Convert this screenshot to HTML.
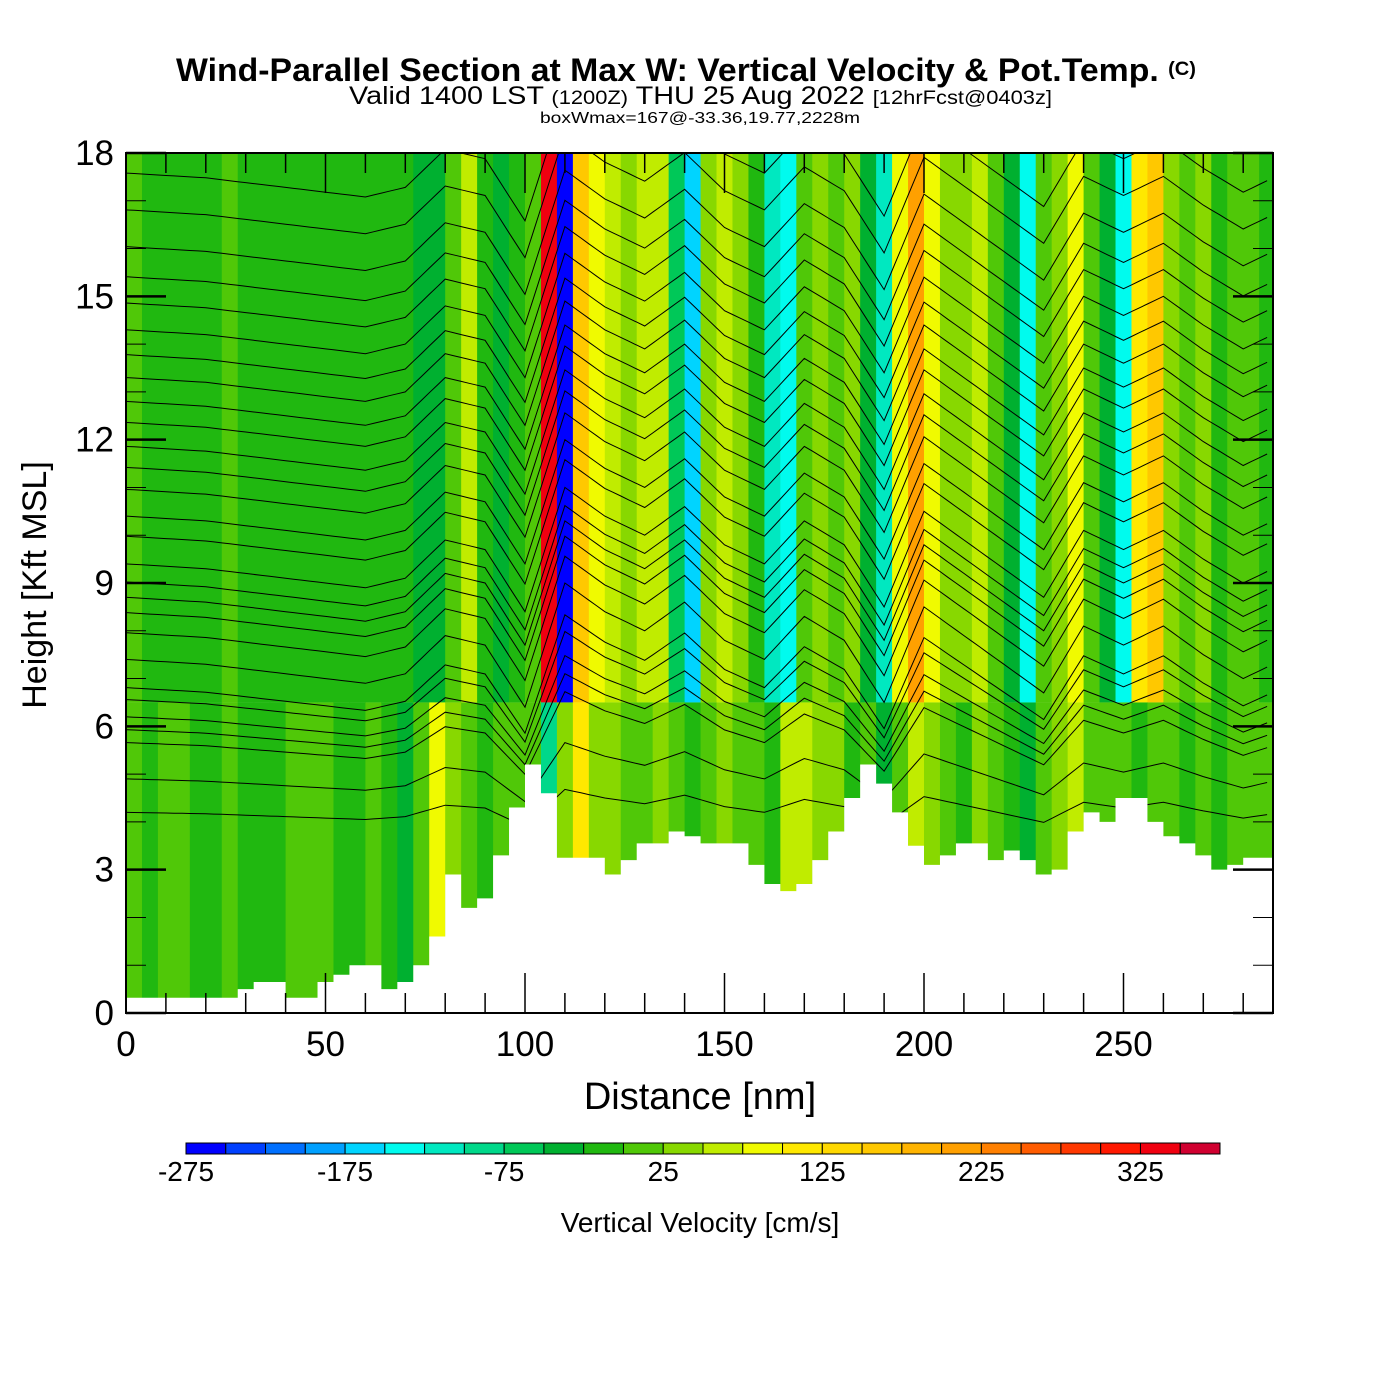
<!DOCTYPE html>
<html><head><meta charset="utf-8"><style>
html,body{margin:0;padding:0;background:#fff;}
svg{display:block;font-family:"Liberation Sans",sans-serif;}
</style></head><body>
<svg id="chart" width="1400" height="1400" viewBox="0 0 1400 1400" xmlns="http://www.w3.org/2000/svg">
<text x="176" y="81" font-size="32" font-weight="bold" textLength="1020" lengthAdjust="spacingAndGlyphs">Wind-Parallel Section at Max W: Vertical Velocity &amp; Pot.Temp. <tspan font-size="19" dy="-6">(C)</tspan></text>
<text x="349" y="104" font-size="25" textLength="703" lengthAdjust="spacingAndGlyphs">Valid 1400 LST <tspan font-size="19">(1200Z)</tspan> THU 25 Aug 2022 <tspan font-size="19">[12hrFcst@0403z]</tspan></text>
<text x="540" y="123" font-size="16" textLength="320" lengthAdjust="spacingAndGlyphs">boxWmax=167@-33.36,19.77,2228m</text>
<g id="cells"></g>
<g id="theta"></g>
<g id="terrain"></g>
<g id="axes"></g>
<g id="cbar"></g>
<text x="700" y="1109" text-anchor="middle" font-size="38">Distance [nm]</text>
<text transform="translate(46,585) rotate(-90)" text-anchor="middle" font-size="34">Height [Kft MSL]</text>
<text x="700" y="1232" text-anchor="middle" font-size="28">Vertical Velocity [cm/s]</text>
</svg>
<script>
// ---- data ----
const colStepNm = 4;
const wUpper = [10,-10,-10,-10,-10,-10,10,-10,-10,-10,-10,-10,-10,-10,-10,-10,-10,-10,-30,
 -40,20,55,-10,-30,-20,10,340,-260,160,90,60,40,70,50,-60,-160,30,55,40,-10,-120,-150,10,30,15,40,-30,-110,80,210,90,40,30,55,15,-30,-150,10,40,80,10,-40,-150,100,160,40,15,30,-5,15,10,-5];
const wLower = [10,-10,10,10,-10,-10,10,-10,-10,-10,10,10,10,-10,-10,10,-10,-30,10,
 90,40,15,-10,10,10,10,-80,30,100,40,30,15,5,30,15,-10,10,30,15,10,-10,55,60,40,30,-10,10,-30,15,60,40,10,-10,30,10,-10,-30,15,40,60,15,5,10,-10,15,10,-10,10,-10,10,15,10];
const terrainKft = [0.32,0.32,0.32,0.32,0.32,0.32,0.32,0.5,0.65,0.65,0.32,0.32,0.65,0.8,1.0,1.0,0.5,0.65,1.0,1.6,2.9,2.2,2.4,3.3,4.3,5.2,4.6,3.25,3.25,3.25,2.9,3.2,3.55,3.55,3.8,3.7,3.55,3.55,3.55,3.1,2.7,2.55,2.7,3.2,3.8,4.5,5.2,4.8,4.2,3.5,3.1,3.3,3.55,3.55,3.2,3.4,3.2,2.9,3.0,3.8,4.2,4.0,4.5,4.5,4.0,3.7,3.55,3.3,3.0,3.1,3.25,3.25];
const thetaBaseKft = [4.2,4.9,5.66,5.93,6.2,6.56,6.81,7.4,7.96,8.38,8.7,9.02,9.4,9.98,10.4,10.96,11.42,11.86,12.36,12.8,13.3,13.78,14.3,14.86,15.41,16.04,16.81,17.58];
const dispNodesNm = [0,10,20,30,40,50,60,70,80,90,100,110,120,130,140,150,160,170,180,190,200,210,220,230,240,250,260,270,280,290];
const dispKft = [0,-0.05,-0.1,-0.2,-0.3,-0.4,-0.5,-0.3,0.5,0.3,-1.0,1.6,1.0,0.6,1.2,0.4,0.0,0.9,0.4,-0.9,1.1,0.5,-0.1,-0.7,0.7,0.3,0.7,0.1,-0.4,0];
const cbLevels = [-275,-250,-225,-200,-175,-150,-125,-100,-75,-50,-25,0,25,50,75,100,125,150,175,200,225,250,275,300,325,350,375];
const cbTickLabels = [-275,-175,-75,25,125,225,325];
const xTicks = [0,50,100,150,200,250];
const yTicks = [0,3,6,9,12,15,18];
const palette = ["#0000ff","#0040ff","#0070ff","#00a0ff","#00d4ff","#00fbee","#00e8c0","#00d88a","#00c858","#00b030","#20b810","#50c808","#88d800","#c0ec00","#f0fa00","#ffe800","#ffd800","#ffc800","#ffb400","#ffa000","#ff8000","#ff5c00","#ff3800","#ff1800","#f00010","#d00030"];
// ---- scales ----
const X0=126,X1=1273,Y0=1013,Y1=153, XMAX=(X1-X0)/3.99;
const sx = d => X0 + d*3.99;
const sy = h => Y0 - (h/18)*(Y0-Y1);
const NS="http://www.w3.org/2000/svg";
function mk(tag, attrs, parent){const e=document.createElementNS(NS,tag);for(const k in attrs)e.setAttribute(k,attrs[k]);parent.appendChild(e);return e;}
function colorOf(v){let i=Math.floor((v-cbLevels[0])/25);i=Math.max(0,Math.min(palette.length-1,i));return palette[i];}
const cells=document.getElementById('cells');
const splitKft=6.5;
wUpper.forEach((v,i)=>{
  const xa=sx(i*colStepNm), xb=Math.min(X1, sx((i+1)*colStepNm));
  const r=mk('rect',{x:xa,y:Y1,width:xb-xa+0.6,height:sy(splitKft)-Y1,fill:colorOf(v)},cells);
  
  
});
wLower.forEach((v,i)=>{
  const xa=sx(i*colStepNm), xb=Math.min(X1, sx((i+1)*colStepNm));
  const r=mk('rect',{x:xa,y:sy(splitKft),width:xb-xa+0.6,height:Y0-sy(splitKft),fill:colorOf(v)},cells);
  
  
});
// theta contours
const theta=document.getElementById('theta');
function disp(d){for(let k=0;k<dispNodesNm.length-1;k++){if(d<=dispNodesNm[k+1]){const t=(d-dispNodesNm[k])/(dispNodesNm[k+1]-dispNodesNm[k]);return dispKft[k]+t*(dispKft[k+1]-dispKft[k]);}}return dispKft[dispKft.length-1];}
mk('clipPath',{id:'plotclip'},theta).appendChild((()=>{const r=document.createElementNS(NS,'rect');r.setAttribute('x',X0);r.setAttribute('y',Y1);r.setAttribute('width',X1-X0);r.setAttribute('height',Y0-Y1);return r;})());
thetaBaseKft.forEach(b=>{
  let pts=[];
  for(let d=0; d<=XMAX; d+=2){const f=Math.min(1,Math.max(0.3,(b-3)/4));pts.push(sx(d).toFixed(1)+','+sy(b+disp(d)*f).toFixed(1));}
  const p=mk('polyline',{points:pts.join(' '),fill:'none',stroke:'#000','stroke-width':1,'clip-path':'url(#plotclip)'},theta);
  
  
});
// terrain
const ter=document.getElementById('terrain');
let tp=[sx(0)+','+Y0];
terrainKft.forEach((h,i)=>{const xa=sx(i*colStepNm), xb=Math.min(X1,sx((i+1)*colStepNm));tp.push(xa+','+sy(h));tp.push(xb+','+sy(h));});
tp.push(X1+','+Y0);
const tpoly=mk('polygon',{points:tp.join(' '),fill:'#fff'},ter);


// axes
const ax=document.getElementById('axes');
const frame=mk('rect',{x:X0,y:Y1,width:X1-X0,height:Y0-Y1,fill:'none',stroke:'#000','stroke-width':2},ax);


for(let d=0; d<=XMAX; d+=10){const L=(d%50===0)?40:20;
  mk('line',{x1:sx(d),x2:sx(d),y1:Y0,y2:Y0-L,stroke:'#000','stroke-width':1.5},ax);
  mk('line',{x1:sx(d),x2:sx(d),y1:Y1,y2:Y1+L,stroke:'#000','stroke-width':1.5},ax);}
for(let h=0; h<=18; h+=1){const L=(h%3===0)?40:20;
  mk('line',{x1:X0,x2:X0+L,y1:sy(h),y2:sy(h),stroke:'#000','stroke-width':(h%3===0)?2.5:1},ax);
  mk('line',{x1:X1,x2:X1-L,y1:sy(h),y2:sy(h),stroke:'#000','stroke-width':(h%3===0)?2.5:1},ax);}
xTicks.forEach(d=>{const t=mk('text',{x:sx(d),y:1056,'text-anchor':'middle','font-size':35},ax);t.textContent=d;
  
  });
yTicks.forEach(h=>{const t=mk('text',{x:114,y:sy(h)+12,'text-anchor':'end','font-size':35},ax);t.textContent=h;
  
  });
// colorbar
const cb=document.getElementById('cbar');
const CB0=186,CB1=1220,bw=(CB1-CB0)/palette.length;
palette.forEach((c,i)=>{const r=mk('rect',{x:CB0+i*bw,y:1143,width:bw,height:11,fill:c,stroke:'#000','stroke-width':1},cb);
  
  });
cbTickLabels.forEach(v=>{const i=cbLevels.indexOf(v);const t=mk('text',{x:CB0+i*bw,y:1181,'text-anchor':'middle','font-size':28},cb);t.textContent=v;
  
  });
</script>
</body></html>
